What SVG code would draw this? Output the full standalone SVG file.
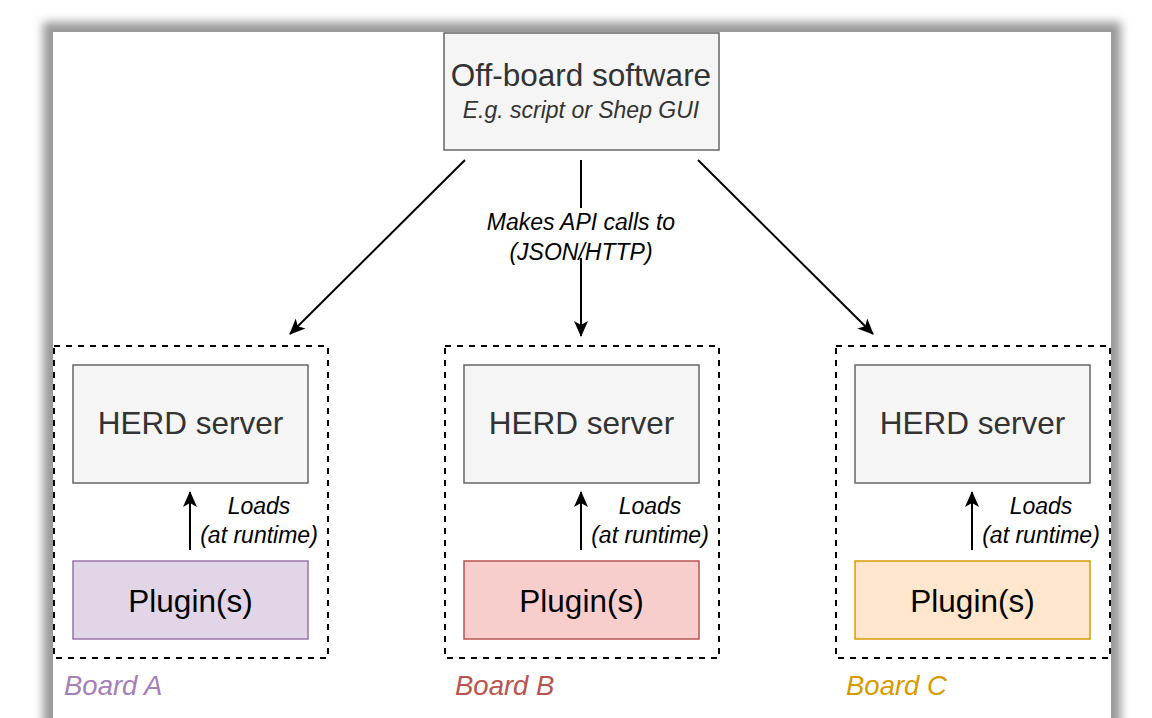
<svg xmlns="http://www.w3.org/2000/svg" width="1152" height="718" viewBox="0 0 1152 718">
<defs>
<filter id="shadow" x="-10%" y="-10%" width="120%" height="120%"><feGaussianBlur stdDeviation="5"/></filter>
<marker id="arrow" viewBox="0 0 16 16" refX="15" refY="8" markerWidth="16" markerHeight="16" markerUnits="userSpaceOnUse" orient="auto"><path d="M0,1 L16,8 L0,15 L4,8 Z" fill="#000"/></marker>
<style>
.box{fill:#f5f5f5;stroke:#666;stroke-width:1.5}
.board{fill:none;stroke:#000;stroke-width:2;stroke-dasharray:6 6}
.main{font-family:"Liberation Sans",Arial,sans-serif;font-size:31.5px;fill:#333;text-anchor:middle}
.sub{font-family:"Liberation Sans",Arial,sans-serif;font-size:23px;font-style:italic;fill:#000;text-anchor:middle}
.lbl{font-family:"Liberation Sans",Arial,sans-serif;font-size:27.5px;font-style:italic}
.edge{stroke:#000;stroke-width:2;fill:none}
</style>
</defs>
<rect x="43" y="22" width="1078" height="720" fill="#999" filter="url(#shadow)"/>
<rect x="53" y="32" width="1058" height="700" fill="#fff"/>

<g id="offboard">
<rect class="box" x="444" y="33" width="275" height="117"/>
<text class="main" x="581" y="86">Off-board software</text>
<text class="sub" x="581" y="118" style="fill:#333">E.g. script or Shep GUI</text>
</g>

<g id="boardA">
<rect class="board" x="54" y="346" width="274" height="312"/>
<rect class="box" x="73" y="365" width="235" height="118"/>
<text class="main" x="190.5" y="434">HERD server</text>
<rect x="73" y="561" width="235" height="78" fill="#e1d5e7" stroke="#9673a6" stroke-width="1.5"/>
<text class="main" x="190.5" y="612" style="fill:#000">Plugin(s)</text>
<text class="lbl" x="64" y="695" fill="#a680b8">Board A</text>
</g>

<g id="boardB">
<rect class="board" x="445" y="346" width="274" height="312"/>
<rect class="box" x="464" y="365" width="235" height="118"/>
<text class="main" x="581.5" y="434">HERD server</text>
<rect x="464" y="561" width="235" height="78" fill="#f8cecc" stroke="#b85450" stroke-width="1.5"/>
<text class="main" x="581.5" y="612" style="fill:#000">Plugin(s)</text>
<text class="lbl" x="455" y="695" fill="#b85450">Board B</text>
</g>

<g id="boardC">
<rect class="board" x="836" y="346" width="274" height="312"/>
<rect class="box" x="855" y="365" width="235" height="118"/>
<text class="main" x="972.5" y="434">HERD server</text>
<rect x="855" y="561" width="235" height="78" fill="#ffe6cc" stroke="#d79b00" stroke-width="1.5"/>
<text class="main" x="972.5" y="612" style="fill:#000">Plugin(s)</text>
<text class="lbl" x="846" y="695" fill="#d79b00">Board C</text>
</g>

<g id="connectors">
<line class="edge" x1="465" y1="160" x2="290" y2="334" marker-end="url(#arrow)"/>
<line class="edge" x1="698" y1="160" x2="873" y2="334" marker-end="url(#arrow)"/>
<line class="edge" x1="581" y1="160" x2="581" y2="208"/>
<line class="edge" x1="581" y1="258" x2="581" y2="336" marker-end="url(#arrow)"/>
<text class="sub" x="581" y="230">Makes API calls to</text>
<text class="sub" x="581" y="260">(JSON/HTTP)</text>
<line class="edge" x1="190" y1="550" x2="190" y2="492" marker-end="url(#arrow)"/>
<line class="edge" x1="581" y1="550" x2="581" y2="492" marker-end="url(#arrow)"/>
<line class="edge" x1="972" y1="550" x2="972" y2="492" marker-end="url(#arrow)"/>
<text class="sub" x="259" y="514">Loads</text>
<text class="sub" x="259" y="543">(at runtime)</text>
<text class="sub" x="650" y="514">Loads</text>
<text class="sub" x="650" y="543">(at runtime)</text>
<text class="sub" x="1041" y="514">Loads</text>
<text class="sub" x="1041" y="543">(at runtime)</text>
</g>
</svg>
